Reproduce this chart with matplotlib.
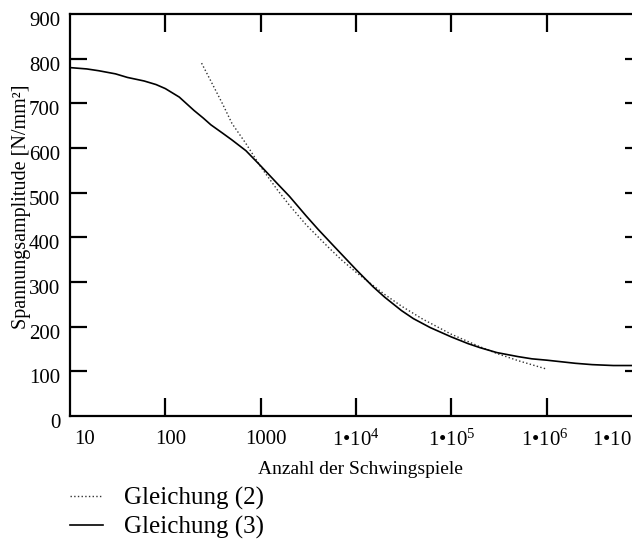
import numpy as np
import matplotlib
matplotlib.use("Agg")
import matplotlib.pyplot as plt
import matplotlib.transforms as mtransforms

plt.rcParams['font.family'] = ['Liberation Serif', 'DejaVu Serif']
plt.rcParams['mathtext.fontset'] = 'custom'
plt.rcParams['mathtext.rm'] = 'Liberation Serif'
plt.rcParams['mathtext.it'] = 'Liberation Serif'

# Gleichung (2) - dotted
n_gl2 = [240, 300, 400, 500, 700, 1000, 1500, 2000, 3000, 5000, 7000, 1e4,
         2e4, 3e4, 5e4, 1e5, 2e5, 3e5, 5e5, 1e6]
s_gl2 = [790, 750, 698, 655, 610, 558, 506, 472, 428, 380, 350, 322,
         272, 246, 217, 183, 155, 140, 124, 105]

# Gleichung (3) - solid
n_gl3 = [10, 15, 20, 30, 40, 60, 80, 100, 140, 200, 250, 300, 400, 500, 700,
         1000, 1500, 2000, 3000, 4000, 6000, 1e4, 1.5e4, 2e4, 3e4, 4e4,
         6e4, 1e5, 1.5e5, 2e5, 3e5, 5e5, 7e5, 1e6, 2e6, 3e6, 5e6, 1e7]
s_gl3 = [780, 777, 773, 766, 758, 750, 742, 733, 714, 684, 667, 652, 633, 618, 594,
         560, 520, 492, 448, 418, 378, 328, 290, 266, 236, 218,
         198, 177, 162, 153, 142, 133, 128, 125, 118, 115, 113, 113]

x_ticks = [10, 100, 1000, 1e4, 1e5, 1e6, 1e7]
x_labels = ['10', '100', '1000', r'1•10$^{4}$', r'1•10$^{5}$', r'1•10$^{6}$', r'1•10$^{7}$']
y_ticks = [0, 100, 200, 300, 400, 500, 600, 700, 800, 900]

fig = plt.figure(figsize=(6.32, 5.49), dpi=100)
ax = fig.add_axes([70/632, 133/549, 572/632, 402/549])

l2, = ax.plot(n_gl2, s_gl2, ls=':', lw=1.0, color='#333333')
l3, = ax.plot(n_gl3, s_gl3, ls='-', lw=1.2, color='black')

ax.set_xscale('log')
ax.set_xlim(10, 1e7)
ax.set_ylim(0, 900)
ax.set_xticks(x_ticks)
ax.set_xticklabels(x_labels, fontsize=15)
ax.xaxis.set_minor_locator(matplotlib.ticker.NullLocator())
ax.set_yticks(y_ticks)
ax.set_yticklabels([str(v) for v in y_ticks], fontsize=15)

ax.tick_params(axis='x', which='major', direction='in', length=13, width=1.6,
               top=True, pad=10)
ax.tick_params(axis='y', which='major', direction='in', length=12, width=1.6,
               right=True, pad=7)
# no ticks at the ends of the axes
for t in ax.xaxis.get_major_ticks()[::6]:
    t.tick1line.set_visible(False)
    t.tick2line.set_visible(False)
yt = ax.yaxis.get_major_ticks()
for t in (yt[0], yt[-1]):
    t.tick1line.set_visible(False)
    t.tick2line.set_visible(False)

for s in ax.spines.values():
    s.set_linewidth(1.6)

# shift tick labels like the original
x_off = [15, 5, 5, 0, 0, -2, -26]
for lab, dx in zip(ax.get_xticklabels(), x_off):
    lab.set_transform(lab.get_transform() +
                      mtransforms.ScaledTranslation(dx/100, 0, fig.dpi_scale_trans))
for lab in ax.get_yticklabels():
    lab.set_transform(lab.get_transform() +
                      mtransforms.ScaledTranslation(0, -5/100, fig.dpi_scale_trans))

fig.text(22/632, 1 - 207/549, 'Spannungsamplitude [N/mm²]', rotation=90,
         ha='center', va='center', fontsize=14.5)
fig.text(360/632, 1 - 470/549, 'Anzahl der Schwingspiele',
         ha='center', va='center', fontsize=14)

fig.legend([l2, l3], ['Gleichung (2)', 'Gleichung (3)'], loc='upper left',
           bbox_to_anchor=(70/632, 1 - 487/549), frameon=False, fontsize=18,
           handlelength=1.3, handletextpad=0.85, labelspacing=0.25,
           borderaxespad=0, borderpad=0)

fig.savefig('out.png', dpi=100)
